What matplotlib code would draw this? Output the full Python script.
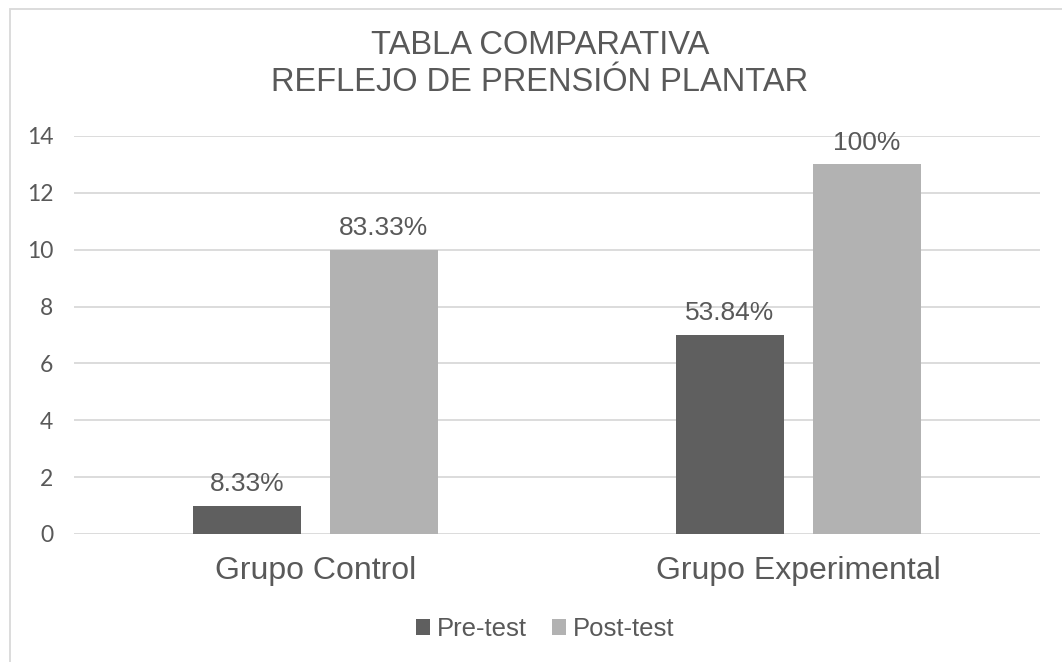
import matplotlib.pyplot as plt
import numpy as np
from matplotlib.patches import Rectangle

# Datos
grupos = ['Grupo Control', 'Grupo Experimental']
series = ['Pre-test', 'Post-test']
pre_test = [1, 7]
post_test = [10, 13]
etiquetas_pre = ['8.33%', '53.84%']
etiquetas_post = ['83.33%', '100%']
colores = ['#5f5f5f', '#b2b2b2']
texto = '#595959'

W, H = 1062, 662
fig = plt.figure(figsize=(W / 100, H / 100), dpi=100)
fig.patch.set_facecolor('white')

# Borde del área del gráfico (recortado a la derecha y abajo)
fig.patches.append(Rectangle((10 / W, -0.02), 1.1, (H - 9) / H + 0.02,
                             transform=fig.transFigure, fill=False,
                             edgecolor='#d9d9d9', linewidth=1.3))

ax = fig.add_axes([74 / W, (H - 534) / H, 966 / W, 398 / H])

x = np.arange(len(grupos))
ancho = 0.2236
desp = 0.1418
b1 = ax.bar(x - desp, pre_test, ancho, color=colores[0], label=series[0], zorder=3)
b2 = ax.bar(x + desp, post_test, ancho, color=colores[1], label=series[1], zorder=3)

for barras, etiquetas in [(b1, etiquetas_pre), (b2, etiquetas_post)]:
    for barra, et in zip(barras, etiquetas):
        ax.annotate(et, (barra.get_x() + barra.get_width() / 2, barra.get_height()),
                    xytext=(0, 7), textcoords='offset points', ha='center', va='bottom',
                    fontsize=19, color=texto, family='Liberation Sans')

ax.set_xlim(-0.5, 1.5)
ax.set_ylim(0, 14)
ax.set_yticks(range(0, 15, 2))
ax.grid(axis='y', color='#d9d9d9', linewidth=1.3, zorder=0)
for s in ax.spines.values():
    s.set_visible(False)
ax.tick_params(length=0)
ax.tick_params(axis='y', pad=15, labelsize=16.5, labelcolor=texto)
ax.tick_params(axis='x', pad=16)
for t in ax.get_yticklabels():
    t.set_family('Lato')
ax.set_xticks(x)
ax.set_xticklabels(grupos, fontsize=23, color=texto, family='Liberation Sans')

fig.text(540 / W, (H - 64) / H, 'TABLA COMPARATIVA\nREFLEJO DE PRENSIÓN PLANTAR',
         ha='center', va='center', fontsize=23.5, color=texto,
         family='Liberation Sans', linespacing=1.26)

leg = fig.legend(handles=[b1, b2], labels=series, loc='center',
                 bbox_to_anchor=(545 / W, (H - 629) / H), ncol=2, frameon=False,
                 prop={'family': 'Liberation Sans', 'size': 18.5},
                 handlelength=0.56, handleheight=0.56, handletextpad=0.25,
                 columnspacing=1.0, labelcolor=texto)

fig.savefig('out.png', dpi=100)
